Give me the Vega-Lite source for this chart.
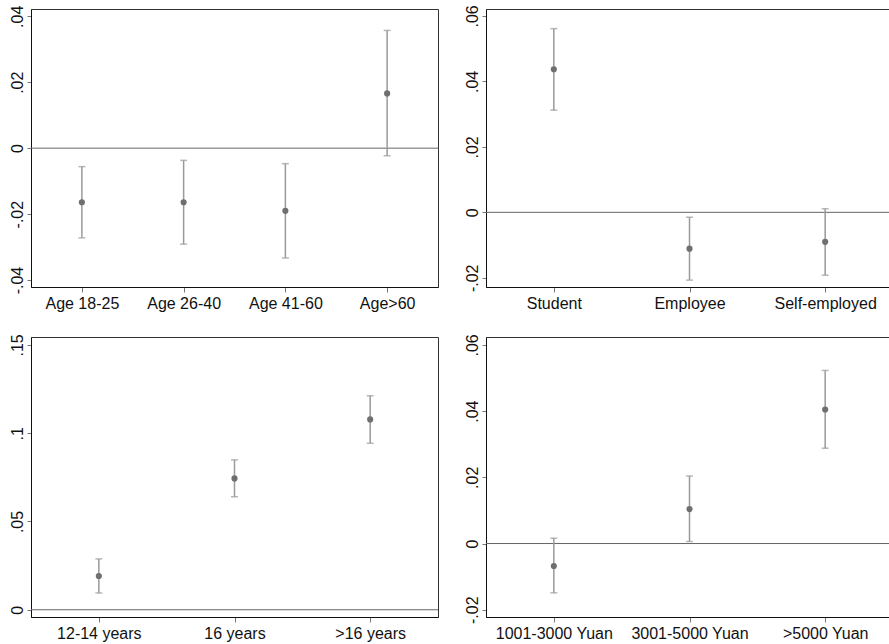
{
  "$schema": "https://vega.github.io/schema/vega-lite/v6.json",
  "padding": {"top": 4, "left": 2, "right": 0, "bottom": 0},
  "background": "white",
  "datasets": {
    "age": [
      {"cat": "Age 18-25", "est": -0.0164, "lo": -0.0272, "hi": -0.0056},
      {"cat": "Age 26-40", "est": -0.0164, "lo": -0.0291, "hi": -0.0037},
      {"cat": "Age 41-60", "est": -0.0190, "lo": -0.0333, "hi": -0.0047},
      {"cat": "Age>60", "est": 0.0166, "lo": -0.0023, "hi": 0.0357}
    ],
    "occ": [
      {"cat": "Student", "est": 0.0437, "lo": 0.0312, "hi": 0.0561},
      {"cat": "Employee", "est": -0.0111, "lo": -0.0207, "hi": -0.0015},
      {"cat": "Self-employed", "est": -0.0090, "lo": -0.0192, "hi": 0.0011}
    ],
    "edu": [
      {"cat": "12-14 years", "est": 0.0191, "lo": 0.0095, "hi": 0.0288},
      {"cat": "16 years", "est": 0.0744, "lo": 0.0640, "hi": 0.0849},
      {"cat": ">16 years", "est": 0.1078, "lo": 0.0943, "hi": 0.1212}
    ],
    "inc": [
      {"cat": "1001-3000 Yuan", "est": -0.0068, "lo": -0.0149, "hi": 0.0016},
      {"cat": "3001-5000 Yuan", "est": 0.0104, "lo": 0.0006, "hi": 0.0204},
      {"cat": ">5000 Yuan", "est": 0.0405, "lo": 0.0288, "hi": 0.0523}
    ],
    "zero": [{"z": 0}]
  },
  "config": {
    "font": "Liberation Sans",
    "view": {"stroke": "#333", "strokeWidth": 1},
    "axis": {
      "grid": false,
      "labelFont": "Liberation Sans",
      "labelFontSize": 16,
      "labelColor": "#111",
      "domainColor": "#111",
      "domainWidth": 1,
      "tickColor": "#777",
      "labelOverlap": false
    }
  },
  "vconcat": [
    {
      "hconcat": [
        {
          "width": 407, "height": 278,
          "data": {"name": "age"},
          "encoding": {
            "x": {"field": "cat", "type": "nominal", "sort": null, "title": null,
                  "scale": {"type": "point", "padding": 0.5},
                  "axis": {"labelAngle": 0, "tickSize": 5, "labelPadding": 3, "minExtent": 30, "maxExtent": 30}}
          },
          "layer": [
            {"data": {"name": "zero"}, "mark": {"type": "rule", "color": "#666", "strokeWidth": 1},
             "encoding": {"x": null, "y": {"field": "z", "type": "quantitative", "title": null}}},
            {"mark": {"type": "rule", "color": "#9a9a9a", "strokeWidth": 1.5},
             "encoding": {"y": {"field": "lo", "type": "quantitative", "title": null}, "y2": {"field": "hi"}}},
            {"mark": {"type": "tick", "color": "#9a9a9a", "thickness": 1.5, "size": 7, "orient": "horizontal"},
             "encoding": {"y": {"field": "lo", "type": "quantitative", "title": null}}},
            {"mark": {"type": "tick", "color": "#9a9a9a", "thickness": 1.5, "size": 7, "orient": "horizontal"},
             "encoding": {"y": {"field": "hi", "type": "quantitative", "title": null}}},
            {"mark": {"type": "point", "filled": true, "color": "#6f6f6f", "size": 38, "opacity": 1},
             "encoding": {"y": {"field": "est", "type": "quantitative", "title": null,
                                "scale": {"domain": [-0.0421, 0.0422], "nice": false, "zero": false},
                                "axis": {"values": [-0.04, -0.02, 0, 0.02, 0.04],
                                         "labelExpr": "(datum.value < 0 ? '-' : '') + replace(format(abs(datum.value), '.2~f'), '0.', '.')",
                                         "labelAngle": -90, "labelAlign": "center", "labelBaseline": "bottom",
                                         "tickSize": 4, "labelPadding": 2, "minExtent": 28, "maxExtent": 28}}}}
          ]
        },
        {
          "width": 407, "height": 278,
          "data": {"name": "occ"},
          "encoding": {
            "x": {"field": "cat", "type": "nominal", "sort": null, "title": null,
                  "scale": {"type": "point", "padding": 0.5},
                  "axis": {"labelAngle": 0, "tickSize": 5, "labelPadding": 3, "minExtent": 30, "maxExtent": 30}}
          },
          "layer": [
            {"data": {"name": "zero"}, "mark": {"type": "rule", "color": "#666", "strokeWidth": 1},
             "encoding": {"x": null, "y": {"field": "z", "type": "quantitative", "title": null}}},
            {"mark": {"type": "rule", "color": "#9a9a9a", "strokeWidth": 1.5},
             "encoding": {"y": {"field": "lo", "type": "quantitative", "title": null}, "y2": {"field": "hi"}}},
            {"mark": {"type": "tick", "color": "#9a9a9a", "thickness": 1.5, "size": 7, "orient": "horizontal"},
             "encoding": {"y": {"field": "lo", "type": "quantitative", "title": null}}},
            {"mark": {"type": "tick", "color": "#9a9a9a", "thickness": 1.5, "size": 7, "orient": "horizontal"},
             "encoding": {"y": {"field": "hi", "type": "quantitative", "title": null}}},
            {"mark": {"type": "point", "filled": true, "color": "#6f6f6f", "size": 38, "opacity": 1},
             "encoding": {"y": {"field": "est", "type": "quantitative", "title": null,
                                "scale": {"domain": [-0.0228, 0.0621], "nice": false, "zero": false},
                                "axis": {"values": [-0.02, 0, 0.02, 0.04, 0.06],
                                         "labelExpr": "(datum.value < 0 ? '-' : '') + replace(format(abs(datum.value), '.2~f'), '0.', '.')",
                                         "labelAngle": -90, "labelAlign": "center", "labelBaseline": "bottom",
                                         "tickSize": 4, "labelPadding": 2, "minExtent": 28, "maxExtent": 28}}}}
          ]
        }
      ],
      "spacing": 18
    },
    {
      "hconcat": [
        {
          "width": 407, "height": 280,
          "data": {"name": "edu"},
          "encoding": {
            "x": {"field": "cat", "type": "nominal", "sort": null, "title": null,
                  "scale": {"type": "point", "padding": 0.5},
                  "axis": {"labelAngle": 0, "tickSize": 5, "labelPadding": 3, "minExtent": 30, "maxExtent": 30}}
          },
          "layer": [
            {"data": {"name": "zero"}, "mark": {"type": "rule", "color": "#666", "strokeWidth": 1},
             "encoding": {"x": null, "y": {"field": "z", "type": "quantitative", "title": null}}},
            {"mark": {"type": "rule", "color": "#9a9a9a", "strokeWidth": 1.5},
             "encoding": {"y": {"field": "lo", "type": "quantitative", "title": null}, "y2": {"field": "hi"}}},
            {"mark": {"type": "tick", "color": "#9a9a9a", "thickness": 1.5, "size": 7, "orient": "horizontal"},
             "encoding": {"y": {"field": "lo", "type": "quantitative", "title": null}}},
            {"mark": {"type": "tick", "color": "#9a9a9a", "thickness": 1.5, "size": 7, "orient": "horizontal"},
             "encoding": {"y": {"field": "hi", "type": "quantitative", "title": null}}},
            {"mark": {"type": "point", "filled": true, "color": "#6f6f6f", "size": 38, "opacity": 1},
             "encoding": {"y": {"field": "est", "type": "quantitative", "title": null,
                                "scale": {"domain": [-0.0041, 0.1545], "nice": false, "zero": false},
                                "axis": {"values": [0, 0.05, 0.1, 0.15],
                                         "labelExpr": "(datum.value < 0 ? '-' : '') + replace(format(abs(datum.value), '.2~f'), '0.', '.')",
                                         "labelAngle": -90, "labelAlign": "center", "labelBaseline": "bottom",
                                         "tickSize": 4, "labelPadding": 2, "minExtent": 28, "maxExtent": 28}}}}
          ]
        },
        {
          "width": 407, "height": 280,
          "data": {"name": "inc"},
          "encoding": {
            "x": {"field": "cat", "type": "nominal", "sort": null, "title": null,
                  "scale": {"type": "point", "padding": 0.5},
                  "axis": {"labelAngle": 0, "tickSize": 5, "labelPadding": 3, "minExtent": 30, "maxExtent": 30}}
          },
          "layer": [
            {"data": {"name": "zero"}, "mark": {"type": "rule", "color": "#666", "strokeWidth": 1},
             "encoding": {"x": null, "y": {"field": "z", "type": "quantitative", "title": null}}},
            {"mark": {"type": "rule", "color": "#9a9a9a", "strokeWidth": 1.5},
             "encoding": {"y": {"field": "lo", "type": "quantitative", "title": null}, "y2": {"field": "hi"}}},
            {"mark": {"type": "tick", "color": "#9a9a9a", "thickness": 1.5, "size": 7, "orient": "horizontal"},
             "encoding": {"y": {"field": "lo", "type": "quantitative", "title": null}}},
            {"mark": {"type": "tick", "color": "#9a9a9a", "thickness": 1.5, "size": 7, "orient": "horizontal"},
             "encoding": {"y": {"field": "hi", "type": "quantitative", "title": null}}},
            {"mark": {"type": "point", "filled": true, "color": "#6f6f6f", "size": 38, "opacity": 1},
             "encoding": {"y": {"field": "est", "type": "quantitative", "title": null,
                                "scale": {"domain": [-0.0222, 0.0624], "nice": false, "zero": false},
                                "axis": {"values": [-0.02, 0, 0.02, 0.04, 0.06],
                                         "labelExpr": "(datum.value < 0 ? '-' : '') + replace(format(abs(datum.value), '.2~f'), '0.', '.')",
                                         "labelAngle": -90, "labelAlign": "center", "labelBaseline": "bottom",
                                         "tickSize": 4, "labelPadding": 2, "minExtent": 28, "maxExtent": 28}}}}
          ]
        }
      ],
      "spacing": 18
    }
  ],
  "spacing": 15
}
